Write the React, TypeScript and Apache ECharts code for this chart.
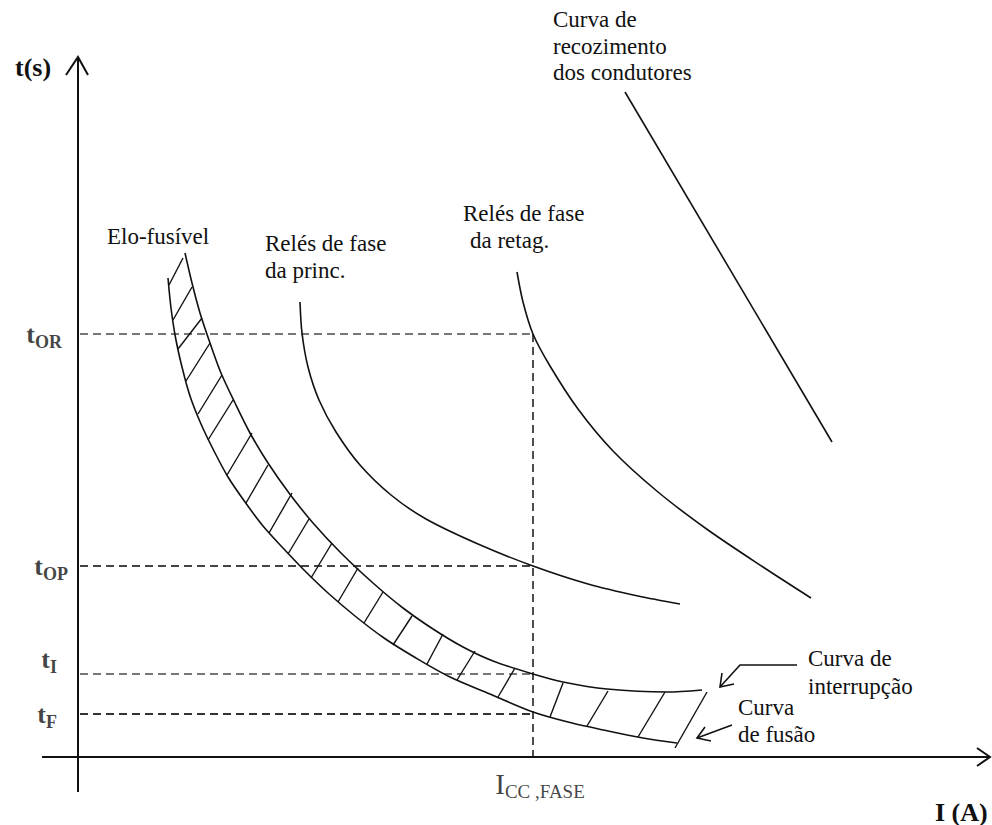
import React, { useEffect, useRef } from "react";
import * as echarts from "echarts";

// Drawing units: I (A) along x, t (s) along y, origin at the axes' crossing.
const iccFase = 455;
const levelNames = ["OR", "OP", "I", "F"];
const levelValues = [423, 191, 83, 43];

// Fuse link band: total-clearing (interrupção) and melting (fusão) curves
const curvaInterrupcao: number[][] = [
  [107, 504], [114, 474], [122, 444], [132, 414], [143, 384], [157, 354],
  [172, 324], [190, 294], [211, 264], [235, 234], [263, 204], [295, 174],
  [325, 149], [355, 128], [385, 110], [415, 96], [455, 83], [485, 75],
  [529, 68], [589, 65], [624, 67],
];
const curvaFusao: number[][] = [
  [90, 479], [93, 449], [97.5, 419.5], [104, 390], [112, 361], [123, 333],
  [136, 306], [150, 280], [167, 255], [185, 231], [205, 209], [226, 187],
  [250, 164], [277, 141], [306, 119], [338, 99], [372, 80], [412, 63],
  [455, 45], [490, 35], [530, 26], [565, 19], [599, 14],
];
// Hatching between the two fuse curves
const hachuras: number[][][] = [
  [[91, 472], [105, 499]], [[95, 437], [114, 470]], [[100, 408], [124, 439]],
  [[108, 376], [132, 414]], [[120, 343], [144, 382]], [[130, 317], [155, 357]],
  [[149, 282], [174, 324]], [[168, 254], [190, 292]], [[191, 224], [214, 264]],
  [[210, 203], [231, 238]], [[233, 179], [254, 214]], [[260, 155], [280, 189]],
  [[286, 134], [305, 165]], [[315, 112], [334, 141]], [[349, 93], [365, 123]],
  [[379, 77], [397, 106]], [[420, 60], [437, 89]], [[472, 40], [485, 74]],
  [[509, 31], [530, 66]], [[560, 20], [587, 65]], [[597, 9], [629, 65]],
];
// Phase relays
const releFasePrinc: number[][] = [
  [222, 455], [224, 424], [230, 390], [241, 357], [258, 325], [282, 292],
  [313, 262], [348, 238], [400, 213], [455, 191], [510, 173], [560, 161],
  [602, 153],
];
const releFaseRetag: number[][] = [
  [439, 485], [445, 455], [455, 423], [472, 391], [500, 348], [535, 306],
  [580, 265], [630, 227], [685, 190], [733, 159],
];
// Conductor annealing curve
const recozimento: number[][] = [[547, 665], [754, 315]];

// Pointer arrows for the fuse curve captions
const setaInterrupcao: number[][][] = [
  [[719, 92], [662, 92], [642, 70]],
  [[656, 73], [642, 70], [644, 84]],
];
const setaFusao: number[][][] = [
  [[654, 32], [619, 19]],
  [[633, 16], [619, 19], [627, 30]],
];

const SERIF = '"Liberation Serif", "Times New Roman", serif';
const INK = "#111";

export default function App() {
  const ref = useRef<HTMLDivElement>(null);

  useEffect(() => {
    if (!ref.current) return;
    const chart = echarts.init(ref.current, null, { renderer: "svg" });

    const levelColors = ["#777", "#444", "#777", "#333"];
    const levelLabel = [
      { distance: 16, offset: [0, 0] },
      { distance: 10, offset: [0, 0] },
      { distance: 21, offset: [0, -15] },
      { distance: 21, offset: [0, 0] },
    ];

    const curve = (name: string, data: number[][], smooth = 0.3) => ({
      type: "line",
      name,
      data,
      smooth,
      showSymbol: false,
      silent: true,
      lineStyle: { color: INK, width: 1.6 },
      z: 3,
    });

    const text = (t: string, x: number, y: number, extra: any = {}) => ({
      type: "text",
      x,
      y,
      silent: true,
      style: {
        text: t,
        fill: INK,
        fontSize: 23,
        fontFamily: SERIF,
        align: "left",
        verticalAlign: "middle",
        ...extra,
      },
    });

    chart.setOption({
      animation: false,
      backgroundColor: "#fff",
      grid: { left: 0, right: 0, top: 0, bottom: 0, containLabel: false },
      xAxis: { type: "value", min: -78, max: 914, show: false },
      yAxis: { type: "value", min: -68, max: 757, show: false },
      series: [
        // axes with open arrowheads
        {
          type: "lines",
          coordinateSystem: "cartesian2d",
          polyline: true,
          silent: true,
          lineStyle: { color: INK, width: 2, opacity: 1 },
          data: [
            { coords: [[-36, 0], [912, 0]] },
            { coords: [[0, -35], [0, 700]] },
            { coords: [[-12, 682], [0, 700], [10, 682]] },
            { coords: [[899, 9], [912, 0], [899, -9]] },
          ],
          z: 2,
        },
        // dashed reference levels
        ...levelValues.map((v, i) => ({
          type: "lines",
          coordinateSystem: "cartesian2d",
          silent: true,
          lineStyle: { color: levelColors[i], width: 1.8, type: [8, 5], opacity: 1 },
          data: [{ coords: [[2, v], [iccFase, v]] }],
          z: 1,
        })),
        {
          type: "lines",
          coordinateSystem: "cartesian2d",
          silent: true,
          lineStyle: { color: "#222", width: 1.6, type: [8, 5], opacity: 1 },
          data: [{ coords: [[iccFase, levelValues[0]], [iccFase, -5]] }],
          z: 1,
        },
        curve("Curva de interrupção", curvaInterrupcao),
        curve("Curva de fusão", curvaFusao),
        curve("Relés de fase da princ.", releFasePrinc),
        curve("Relés de fase da retag.", releFaseRetag),
        curve("Curva de recozimento dos condutores", recozimento, 0),
        {
          type: "lines",
          coordinateSystem: "cartesian2d",
          silent: true,
          lineStyle: { color: INK, width: 1.4, opacity: 1 },
          data: hachuras.map((c) => ({ coords: c })),
          z: 3,
        },
        {
          type: "lines",
          coordinateSystem: "cartesian2d",
          polyline: true,
          silent: true,
          lineStyle: { color: INK, width: 1.6, opacity: 1 },
          data: [...setaInterrupcao, ...setaFusao].map((c) => ({ coords: c })),
          z: 3,
        },
        // time level labels on the t axis
        {
          type: "scatter",
          symbolSize: 0,
          silent: true,
          data: levelValues.map((v, i) => ({
            value: [0, v],
            label: {
              show: true,
              position: "left",
              distance: levelLabel[i].distance,
              offset: levelLabel[i].offset,
              formatter: `{t|t}{s|${levelNames[i]}}`,
              rich: {
                t: { fontSize: 26, fontWeight: "bold", fontFamily: SERIF, color: INK, lineHeight: 34 },
                s: {
                  fontSize: 18,
                  fontWeight: "bold",
                  fontFamily: SERIF,
                  color: INK,
                  lineHeight: 18,
                  verticalAlign: "bottom",
                },
              },
            },
          })),
        },
        // short-circuit current label on the I axis
        {
          type: "scatter",
          symbolSize: 0,
          silent: true,
          data: [
            {
              value: [iccFase, 0],
              label: {
                show: true,
                position: "bottom",
                distance: 10,
                offset: [7, 0],
                formatter: "{i|I}{s|CC ,FASE}",
                rich: {
                  i: { fontSize: 29, fontFamily: SERIF, color: INK, lineHeight: 34 },
                  s: {
                    fontSize: 19,
                    fontFamily: SERIF,
                    color: INK,
                    lineHeight: 18,
                    verticalAlign: "bottom",
                  },
                },
              },
            },
          ],
        },
      ],
      graphic: [
        text("t(s)", 15, 67, { fontSize: 26, fontWeight: "bold" }),
        text("I (A)", 935, 812, { fontSize: 26, fontWeight: "bold" }),
        text("Elo-fusível", 107, 236),
        text("Relés de fase", 265, 243),
        text("da princ.", 265, 270),
        text("Relés de fase", 463, 213),
        text("da retag.", 470, 240),
        text("Curva de", 553, 19),
        text("recozimento", 553, 46),
        text("dos condutores", 553, 72),
        text("Curva de", 808, 658),
        text("interrupção", 808, 686),
        text("Curva", 738, 707),
        text("de fusão", 738, 734),
      ],
    });

    return () => chart.dispose();
  }, []);

  return (
    <div
      ref={ref}
      style={{ position: "absolute", left: 0, top: 0, width: 992, height: 825, background: "#fff" }}
    />
  );
}
